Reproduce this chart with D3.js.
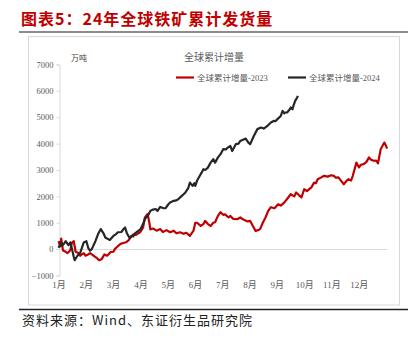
<!DOCTYPE html>
<html><head><meta charset="utf-8">
<script src="https://cdn.jsdelivr.net/npm/d3@7/dist/d3.min.js"></script>
<style>html,body{margin:0;padding:0;background:#fff;}svg{display:block;}</style>
</head><body>
<svg id="c" width="415" height="348"></svg>
<script>
const titleText = "图表5：24年全球铁矿累计发货量";
const chartTitle = "全球累计增量";
const unitLabel = "万吨";
const sourceText = "资料来源：Wind、东证衍生品研究院";
const monthLabels = ["1月","2月","3月","4月","5月","6月","7月","8月","9月","10月","11月","12月"];
const yTicks = [-1000,0,1000,2000,3000,4000,5000,6000,7000];
const seriesNames = ["全球累计增量-2023","全球累计增量-2024"];

// day of year, cumulative increment (万吨)
const days2023 = [0,2,3,5,8,10,13,15,17,19,22,24,28,30,33,35,39,42,45,48,51,54,58,61,63,65,69,72,75,78,81,83,86,91,94,96,99,101,102,105,109,113,116,120,124,128,131,135,139,142,146,150,152,154,158,161,163,166,169,172,174,177,180,183,185,189,191,194,199,202,205,210,213,216,219,222,224,227,230,233,236,240,244,247,251,254,258,262,264,267,270,273,276,281,284,286,288,292,295,299,303,306,308,311,314,317,319,322,325,327,331,333,334,336,339,342,345,347,350,353,355,358,362,364,365];
const values2023 = [300,100,400,-50,-100,-150,-50,250,300,-100,-150,-250,-150,-250,-200,-150,-250,-320,-420,-380,-200,-250,-110,-100,20,80,200,230,260,340,480,560,540,650,820,1200,1330,1000,750,780,700,760,650,720,640,700,600,640,580,620,500,700,1000,1000,880,950,1070,950,880,1000,1020,1250,1400,1300,1320,1200,1260,1150,1140,1200,1130,1050,1070,880,690,720,760,1000,1200,1450,1590,1550,1700,1650,1770,1900,2080,2000,2150,2050,1960,2270,2200,2340,2520,2500,2650,2720,2780,2750,2800,2780,2710,2720,2590,2460,2550,2650,2600,2780,3280,3150,3100,3200,3220,3300,3480,3400,3350,3360,3250,3790,4040,3910,3810];
const days2024 = [0,3,4,6,8,11,13,15,17,18,21,24,26,28,31,33,35,37,41,44,47,50,52,55,57,61,64,66,70,72,74,76,79,81,83,85,89,91,94,96,99,102,105,108,110,113,117,119,122,124,128,131,133,137,139,141,144,146,149,151,152,154,157,159,161,163,166,169,172,174,177,180,183,186,188,191,193,197,200,202,205,208,211,213,217,221,225,228,230,232,236,239,241,243,247,249,251,252,254,257,258,260,261,263,265,266];
const values2024 = [50,250,130,200,300,150,250,0,-300,-420,-250,-150,50,250,300,50,-60,0,300,570,760,600,440,380,350,500,570,640,650,750,820,600,420,500,480,600,700,750,950,1150,1250,1450,1500,1520,1450,1600,1550,1550,1700,1770,1830,1850,1890,2020,2080,2150,2300,2520,2400,2500,2400,2600,2780,2900,3030,3000,3090,3280,3410,3280,3470,3600,3790,3780,3850,3910,3720,3980,4000,4100,4150,4190,4040,3980,4290,4550,4610,4570,4620,4670,4800,4860,4850,4920,5050,5240,5150,5180,5180,5300,5370,5300,5430,5620,5740,5810];

const colors = ["#c00000", "#262626"];

const svg = d3.select("#c");
const CJK = "'Noto Sans CJK SC', sans-serif";
const SERIF = "'Liberation Serif', 'Noto Sans CJK SC', serif";

// Title
svg.append("text").attr("x", 21).attr("y", 25)
  .attr("fill", "#c00000").attr("font-family", CJK).attr("font-weight", "bold")
  .attr("font-size", 16).attr("letter-spacing", 1).text(titleText);
svg.append("line").attr("x1", 19).attr("x2", 408).attr("y1", 32).attr("y2", 32)
  .attr("stroke", "#8c8c8c").attr("stroke-width", 2);

// chart box
svg.append("rect").attr("x", 28.5).attr("y", 36.5).attr("width", 371).attr("height", 268.5)
  .attr("fill", "none").attr("stroke", "#d9d9d9").attr("stroke-width", 1);

// Footer
svg.append("line").attr("x1", 19).attr("x2", 408).attr("y1", 309.5).attr("y2", 309.5)
  .attr("stroke", "#222").attr("stroke-width", 1.3);
svg.append("text").attr("x", 22).attr("y", 325)
  .attr("fill", "#222").attr("font-family", CJK).attr("font-size", 13)
  .attr("letter-spacing", 1).text(sourceText);

// Scales
const x = d3.scaleLinear().domain([0, 365]).range([58.5, 387]);
const y = d3.scaleLinear().domain([-1000, 7000]).range([275.5, 64.5]);

// Y axis
const yAxis = d3.axisLeft(y).tickValues(yTicks).tickSize(3).tickPadding(3).tickFormat(d3.format("d"));
const yg = svg.append("g").attr("transform", "translate(59.5,0)").call(yAxis);
yg.select(".domain").attr("stroke", "#d9d9d9");
yg.selectAll(".tick line").attr("stroke", "#d9d9d9");
yg.selectAll("text").attr("fill", "#595959").attr("font-family", SERIF).attr("font-size", 8.5);

// zero line
svg.append("line").attr("x1", x(0)).attr("x2", x(365)).attr("y1", Math.round(y(0)) + 0.5).attr("y2", Math.round(y(0)) + 0.5)
  .attr("stroke", "#d9d9d9").attr("stroke-width", 1);

// X labels (evenly spaced month starts)
const xm = d3.scaleLinear().domain([0, 12]).range([58.5, 386]);
const xAxis = d3.axisBottom(xm).tickValues(d3.range(12)).tickSize(0).tickPadding(0)
  .tickFormat((d, i) => monthLabels[i]);
const xg = svg.append("g").attr("transform", "translate(0,282)").call(xAxis);
xg.select(".domain").remove();
xg.selectAll("text").attr("fill", "#595959").attr("font-family", SERIF).attr("font-size", 9);

// unit label & chart title
svg.append("text").attr("x", 71).attr("y", 61).attr("fill", "#404040")
  .attr("font-family", CJK).attr("font-size", 8).text(unitLabel);
svg.append("text").attr("x", 214).attr("y", 61).attr("text-anchor", "middle").attr("fill", "#595959")
  .attr("font-family", CJK).attr("font-size", 10).text(chartTitle);

// Lines
const line = d3.line().x(d => x(d[0])).y(d => y(d[1]));
const data = [d3.zip(days2023, values2023), d3.zip(days2024, values2024)];
data.forEach((d, i) => {
  svg.append("path").datum(d).attr("d", line).attr("fill", "none")
    .attr("stroke", colors[i]).attr("stroke-width", 2.2).attr("stroke-linejoin", "round");
});

// Legend
const legX = [176, 288];
seriesNames.forEach((n, i) => {
  svg.append("line").attr("x1", legX[i]).attr("x2", legX[i] + 18).attr("y1", 77.5).attr("y2", 77.5)
    .attr("stroke", colors[i]).attr("stroke-width", 2.2);
  svg.append("text").attr("x", legX[i] + 21).attr("y", 80.5).attr("fill", "#595959")
    .attr("font-family", SERIF).attr("font-size", 8.5).text(n);
});
</script>
</body></html>
